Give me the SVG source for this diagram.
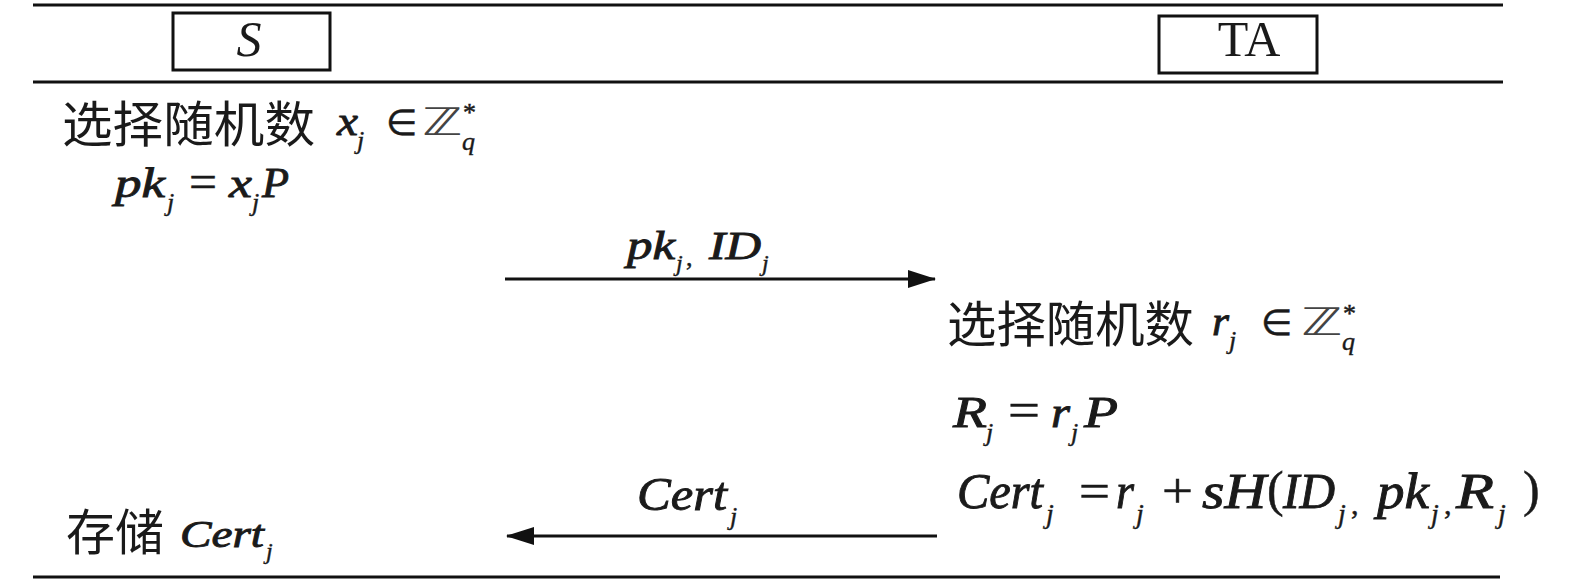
<svg xmlns="http://www.w3.org/2000/svg" width="1575" height="583" viewBox="0 0 1575 583">
<style>
.rule{stroke:#111;stroke-width:3;fill:none}
.box{stroke:#111;stroke-width:3;fill:#fff}
.cjk{font-family:"Noto Sans CJK SC","Noto Sans CJK JP",sans-serif;font-size:49px;fill:#1a1a1a}
.m{font-family:"Liberation Serif","Times New Roman",serif;font-style:italic;font-weight:normal;fill:#1a1a1a;stroke:#1a1a1a;stroke-width:0.9}
.op{font-family:"Liberation Serif","Times New Roman",serif;font-style:normal;font-weight:normal;fill:#1a1a1a;stroke:#1a1a1a;stroke-width:0.5}
.zz{font-family:"DejaVu Sans",sans-serif;font-style:normal;font-weight:normal;fill:#444}
.sub{font-family:"Liberation Serif","Times New Roman",serif;font-style:italic;font-weight:normal;fill:#1a1a1a;stroke:#1a1a1a;stroke-width:0.4}
.hdr{font-family:"Liberation Serif","Times New Roman",serif;font-size:50px;fill:#1a1a1a}
.conn{stroke:#111;stroke-width:3;fill:none}
</style>
<defs>
<marker id="ah" markerUnits="userSpaceOnUse" markerWidth="28" markerHeight="18" viewBox="0 0 28 18" refX="27" refY="9" orient="auto">
<path d="M0,0 L28,9 L0,18 z" fill="#111"/>
</marker>
</defs>
<rect width="1575" height="583" fill="#fff"/>
<g id="rules">
<line class="rule" x1="33" y1="5" x2="1503" y2="5"/>
<line class="rule" x1="33" y1="82" x2="1503" y2="82"/>
<line class="rule" x1="33" y1="577" x2="1500" y2="577"/>
</g>
<g id="node-S">
<rect class="box" x="173" y="13" width="157" height="57"/>
<text class="hdr" x="249" y="56" text-anchor="middle" font-style="italic">S</text>
</g>
<g id="node-TA">
<rect class="box" x="1159" y="16" width="158" height="57"/>
<text class="hdr" x="1249" y="56" text-anchor="middle">TA</text>
</g>
<g id="S-step1">
<text class="cjk" x="62" y="142" textLength="253" lengthAdjust="spacingAndGlyphs">选择随机数</text>
<text class="m" font-size="42" x="337" y="135" textLength="21" lengthAdjust="spacingAndGlyphs">x</text>
<text class="sub" font-size="26" x="357" y="149">j</text>
<text class="op" font-size="36" x="386" y="135">∈</text>
<text class="zz" font-size="38" x="422" y="135" textLength="40" lengthAdjust="spacingAndGlyphs">ℤ</text>
<text class="sub" font-size="26" x="462" y="150">q</text>
<text class="op" font-size="26" x="463" y="121">*</text>
</g>
<g id="S-step2">
<text class="m" font-size="42" x="115" y="197" textLength="50" lengthAdjust="spacingAndGlyphs">pk</text>
<text class="sub" font-size="26" x="167" y="211">j</text>
<text class="op" font-size="46" x="189" y="197" textLength="28" lengthAdjust="spacingAndGlyphs">=</text>
<text class="m" font-size="42" x="229" y="197" textLength="23" lengthAdjust="spacingAndGlyphs">x</text>
<text class="sub" font-size="26" x="252" y="211">j</text>
<text class="m" font-size="42" x="262" y="197" textLength="27" lengthAdjust="spacingAndGlyphs">P</text>
</g>
<g id="TA-step1">
<text class="cjk" x="947" y="342" textLength="247" lengthAdjust="spacingAndGlyphs">选择随机数</text>
<text class="m" font-size="42" x="1212" y="335" textLength="17" lengthAdjust="spacingAndGlyphs">r</text>
<text class="sub" font-size="26" x="1229" y="349">j</text>
<text class="op" font-size="36" x="1261" y="335">∈</text>
<text class="zz" font-size="38" x="1301" y="335" textLength="41" lengthAdjust="spacingAndGlyphs">ℤ</text>
<text class="sub" font-size="26" x="1342" y="350">q</text>
<text class="op" font-size="26" x="1343" y="322">*</text>
</g>
<g id="TA-step2">
<text class="m" font-size="44" x="953" y="427" textLength="34" lengthAdjust="spacingAndGlyphs">R</text>
<text class="sub" font-size="26" x="986" y="441">j</text>
<text class="op" font-size="50" x="1008" y="427" textLength="32" lengthAdjust="spacingAndGlyphs">=</text>
<text class="m" font-size="44" x="1051" y="427" textLength="19" lengthAdjust="spacingAndGlyphs">r</text>
<text class="sub" font-size="26" x="1071" y="441">j</text>
<text class="m" font-size="44" x="1084" y="427" textLength="34" lengthAdjust="spacingAndGlyphs">P</text>
</g>
<g id="TA-step3">
<text class="m" font-size="50" x="957" y="508" textLength="86" lengthAdjust="spacingAndGlyphs">Cert</text>
<text class="sub" font-size="28" x="1046" y="523">j</text>
<text class="op" font-size="50" x="1079" y="508" textLength="31" lengthAdjust="spacingAndGlyphs">=</text>
<text class="m" font-size="50" x="1116" y="508" textLength="18" lengthAdjust="spacingAndGlyphs">r</text>
<text class="sub" font-size="28" x="1136" y="523">j</text>
<text class="op" font-size="50" x="1162" y="508" textLength="31" lengthAdjust="spacingAndGlyphs">+</text>
<text class="m" font-size="50" x="1202" y="508" textLength="64" lengthAdjust="spacingAndGlyphs">sH</text>
<text class="op" font-size="50" x="1267" y="506">(</text>
<text class="m" font-size="50" x="1283" y="508" textLength="52" lengthAdjust="spacingAndGlyphs">ID</text>
<text class="sub" font-size="28" x="1338" y="523">j</text>
<text class="op" font-size="30" x="1351" y="514">,</text>
<text class="m" font-size="50" x="1377" y="508" textLength="52" lengthAdjust="spacingAndGlyphs">pk</text>
<text class="sub" font-size="28" x="1431" y="523">j</text>
<text class="op" font-size="30" x="1444" y="514">,</text>
<text class="m" font-size="50" x="1456" y="508" textLength="38" lengthAdjust="spacingAndGlyphs">R</text>
<text class="sub" font-size="28" x="1498" y="523">j</text>
<text class="op" font-size="50" x="1523" y="506">)</text>
</g>
<g id="S-step3">
<text class="cjk" x="66" y="550" font-size="50" textLength="98" lengthAdjust="spacingAndGlyphs">存储</text>
<text class="m" font-size="38" x="180" y="547" textLength="84" lengthAdjust="spacingAndGlyphs">Cert</text>
<text class="sub" font-size="24" x="266" y="559">j</text>
</g>
<g id="connectors">
<line class="conn" x1="505" y1="279" x2="935" y2="279" marker-end="url(#ah)"/>
<text class="m" font-size="40" x="627" y="259" textLength="48" lengthAdjust="spacingAndGlyphs">pk</text>
<text class="sub" font-size="24" x="676" y="271">j</text>
<text class="op" font-size="26" x="686" y="266">,</text>
<text class="m" font-size="40" x="709" y="259" textLength="52" lengthAdjust="spacingAndGlyphs">ID</text>
<text class="sub" font-size="24" x="762" y="271">j</text>
<line class="conn" x1="937" y1="536" x2="507" y2="536" marker-end="url(#ah)"/>
<text class="m" font-size="46" x="637" y="510" textLength="90" lengthAdjust="spacingAndGlyphs">Cert</text>
<text class="sub" font-size="26" x="730" y="525">j</text>
</g>
</svg>
